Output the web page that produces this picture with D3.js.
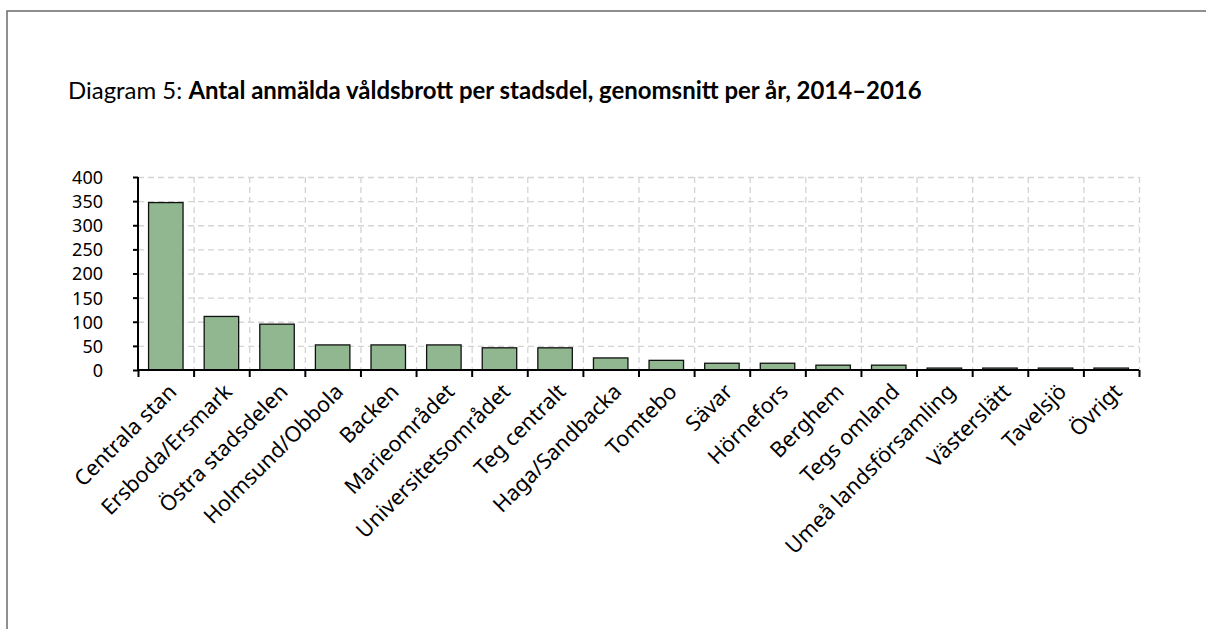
<!DOCTYPE html>
<html>
<head>
<meta charset="utf-8">
<script src="https://cdn.jsdelivr.net/npm/d3@7"></script>
<style>
    body { margin: 0; background: #fff; }
    svg { display: block; }
    .tick text { fill: #000; }
</style>
</head>
<body>
<div id="chart"></div>
<script>
const categories = ['Centrala stan', 'Ersboda/Ersmark', 'Östra stadsdelen', 'Holmsund/Obbola', 'Backen',
    'Marieområdet', 'Universitetsområdet', 'Teg centralt', 'Haga/Sandbacka', 'Tomtebo', 'Sävar',
    'Hörnefors', 'Berghem', 'Tegs omland', 'Umeå landsförsamling', 'Västerslätt', 'Tavelsjö', 'Övrigt'];
const values = [347, 111, 95, 52, 52, 52, 46, 46, 25, 20, 14, 14, 10, 10, 4, 4, 4, 4];
const yTicks = [0, 50, 100, 150, 200, 250, 300, 350, 400];

const W = 1206, H = 629;
const margin = { top: 177, right: 67, bottom: 259, left: 138 };
const width = W - margin.left - margin.right;
const height = H - margin.top - margin.bottom;

let svg = d3.select('#chart').append('svg')
    .attr('width', W)
    .attr('height', H);

// ram (bara överkant och vänsterkant syns)
svg.append('path')
    .attr('d', 'M7,629 V11 H1206')
    .attr('fill', 'none')
    .attr('stroke', '#6b6b6b')
    .attr('stroke-width', 1.5);

// rubrik
let title = svg.append('text')
    .attr('x', 68)
    .attr('y', 99)
    .style('font-family', 'Lato, "Open Sans", sans-serif')
    .style('font-size', '19px');
title.append('tspan').text('Diagram 5: ');
title.append('tspan').style('font-weight', 'bold')
    .text('Antal anmälda våldsbrott per stadsdel, genomsnitt per år, 2014–2016');
// anpassa storleken till originalets bredd
let tw = title.node().getComputedTextLength();
title.style('font-size', (19 * 854 / tw) + 'px');

let chart = svg.append('g')
    .attr('transform', 'translate(' + margin.left + ',' + margin.top + ')');

const yScale = d3.scaleLinear().domain([0, 400]).range([height, 0]);
const xScale = d3.scaleBand().domain(categories).range([0, width])
    .paddingInner(0.38).paddingOuter(0.19);
const xEdges = d3.scaleLinear().domain([0, categories.length]).range([0, width]);

// stödlinjer
chart.append('g').attr('class', 'hgrid')
    .call(d3.axisLeft(yScale).tickValues(yTicks.slice(1)).tickSize(-width).tickFormat(''))
    .call(g => g.select('.domain').remove());
chart.append('g').attr('class', 'vgrid')
    .call(d3.axisTop(xEdges).tickValues(d3.range(1, categories.length + 1)).tickSize(-height).tickFormat(''))
    .call(g => g.select('.domain').remove());
chart.selectAll('.hgrid line, .vgrid line')
    .attr('stroke', '#d4d4d4')
    .attr('stroke-width', 1.3)
    .attr('stroke-dasharray', '6,4');

// staplar
chart.selectAll('.bar').data(values).enter()
    .append('rect').classed('bar', true)
    .attr('x', (d, i) => xScale(categories[i]))
    .attr('width', xScale.bandwidth())
    .attr('y', d => yScale(d))
    .attr('height', d => height - yScale(d))
    .attr('fill', '#90b78f')
    .attr('stroke', '#111')
    .attr('stroke-width', 1.3);

// y-axel
let yAxis = chart.append('g').attr('class', 'yaxis')
    .call(d3.axisLeft(yScale).tickValues(yTicks).tickSize(5).tickPadding(30));
yAxis.select('.domain').attr('stroke', '#000').attr('stroke-width', 2).attr('d', 'M0,0V' + height);
yAxis.selectAll('line').attr('stroke', '#000').attr('stroke-width', 2);
yAxis.selectAll('text')
    .style('font-family', '"Noto Sans", "Open Sans", sans-serif')
    .style('font-size', '18px')
    .attr('dy', '0.36em');

// x-axel: streck vid kategorigränserna
let xAxis = chart.append('g').attr('class', 'xaxis')
    .attr('transform', 'translate(0,' + height + ')')
    .call(d3.axisBottom(xEdges).tickValues(d3.range(0, categories.length + 1)).tickSize(7).tickFormat(''));
xAxis.select('.domain').attr('stroke', '#000').attr('stroke-width', 2).attr('d', 'M0,0H' + width);
xAxis.selectAll('line').attr('stroke', '#000').attr('stroke-width', 2);

// kategorietiketter
let labels = chart.append('g').attr('class', 'xlabels')
    .attr('transform', 'translate(0,' + height + ')')
    .call(d3.axisBottom(xScale).tickSize(0).tickPadding(0));
labels.select('.domain').remove();
labels.selectAll('text')
    .style('font-family', '"Noto Sans", "Open Sans", sans-serif')
    .style('font-size', '21.5px')
    .style('text-anchor', 'end')
    .attr('dy', '0')
    .attr('transform', 'translate(12,23) rotate(-45)')
    .attr('y', 0)
    .attr('x', 0);
</script>
</body>
</html>
